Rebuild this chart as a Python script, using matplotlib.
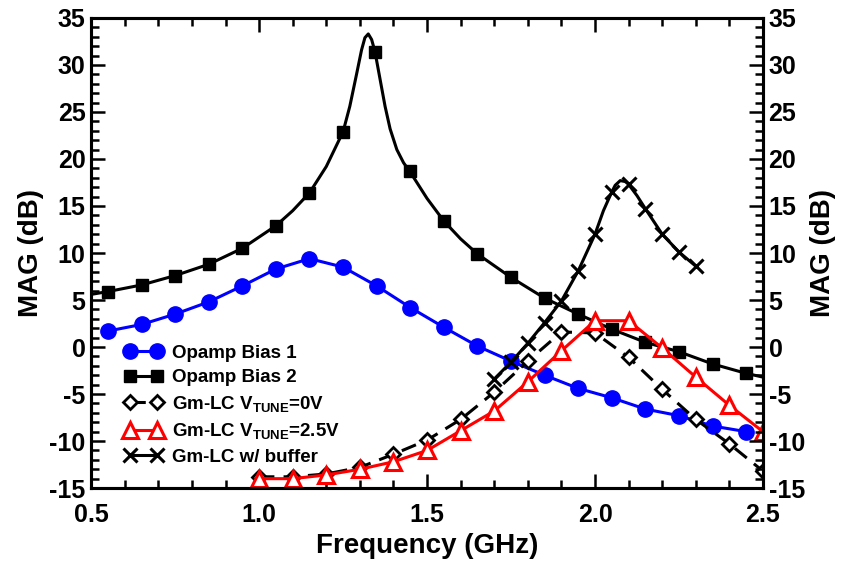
import matplotlib.pyplot as plt
from matplotlib.ticker import MultipleLocator, FormatStrFormatter

plt.rcParams['font.family'] = ['Liberation Sans', 'DejaVu Sans']
plt.rcParams['font.weight'] = 'bold'
plt.rcParams['axes.unicode_minus'] = False
plt.rcParams['mathtext.fontset'] = 'custom'
plt.rcParams['mathtext.bf'] = 'Liberation Sans:bold'
plt.rcParams['mathtext.rm'] = 'Liberation Sans:bold'
plt.rcParams['mathtext.default'] = 'bf'

# Opamp Bias 1 (blue circles)
f_bias1 = [0.55, 0.65, 0.75, 0.85, 0.95, 1.05, 1.15, 1.25, 1.35, 1.45,
           1.55, 1.65, 1.75, 1.85, 1.95, 2.05, 2.15, 2.25, 2.35, 2.45]
mag_bias1 = [1.7, 2.4, 3.5, 4.8, 6.5, 8.3, 9.4, 8.5, 6.5, 4.2,
             2.1, 0.1, -1.5, -3.0, -4.4, -5.4, -6.6, -7.3, -8.4, -9.0]

# Opamp Bias 2 (black squares) - markers
f_bias2 = [0.55, 0.65, 0.75, 0.85, 0.95, 1.05, 1.15, 1.25, 1.345, 1.45,
           1.55, 1.65, 1.75, 1.85, 1.95, 2.05, 2.15, 2.25, 2.35, 2.45]
mag_bias2 = [5.9, 6.6, 7.6, 8.8, 10.5, 12.9, 16.4, 22.9, 31.4, 18.7,
             13.4, 9.9, 7.4, 5.2, 3.5, 1.9, 0.5, -0.5, -1.8, -2.8]
# Opamp Bias 2 - traced curve
f_bias2_line = [0.5, 0.55, 0.65, 0.75, 0.85, 0.95, 1.05, 1.1, 1.15, 1.2, 1.25,
                1.27, 1.29, 1.305, 1.315, 1.325, 1.335, 1.345, 1.36, 1.375, 1.39,
                1.41, 1.43, 1.45, 1.50, 1.55, 1.60, 1.65, 1.75, 1.85, 1.95, 2.05,
                2.15, 2.25, 2.35, 2.45, 2.5]
mag_bias2_line = [5.6, 5.9, 6.6, 7.6, 8.8, 10.5, 12.9, 14.5, 16.4, 19.2, 22.9,
                  25.6, 29.0, 31.6, 32.9, 33.3, 32.7, 31.4, 28.5, 25.6, 23.2,
                  21.0, 19.6, 18.6, 15.8, 13.4, 11.5, 9.9, 7.4, 5.2, 3.5, 1.9,
                  0.5, -0.5, -1.8, -2.8, -3.2]

# Gm-LC VTUNE=0V (open diamonds, dashed)
f_tune0 = [1.0, 1.1, 1.2, 1.3, 1.4, 1.5, 1.6, 1.7, 1.8, 1.9,
           2.0, 2.1, 2.2, 2.3, 2.4, 2.5]
mag_tune0 = [-13.8, -13.8, -13.5, -12.8, -11.4, -9.9, -7.7, -4.8, -1.5, 1.6,
             1.5, -1.1, -4.5, -7.7, -10.3, -13.2]

# Gm-LC VTUNE=2.5V (open red triangles)
f_tune25 = [1.0, 1.1, 1.2, 1.3, 1.4, 1.5, 1.6, 1.7, 1.8, 1.9,
            2.0, 2.1, 2.2, 2.3, 2.4, 2.5]
mag_tune25 = [-14.0, -14.0, -13.6, -13.0, -12.2, -11.0, -8.9, -6.8, -3.7, -0.4,
              2.8, 2.8, -0.1, -3.2, -6.2, -9.0]

# Gm-LC w/ buffer (x markers)
f_buf = [1.70, 1.75, 1.80, 1.85, 1.90, 1.95, 2.00, 2.05, 2.10, 2.15, 2.20, 2.25, 2.30]
mag_buf = [-3.4, -1.6, 0.4, 2.6, 4.9, 8.1, 12.0, 16.5, 17.3, 14.7, 12.0, 10.1, 8.6]
f_buf_line = [1.70, 1.75, 1.80, 1.85, 1.90, 1.95, 2.00, 2.025, 2.05, 2.06, 2.075,
              2.09, 2.10, 2.125, 2.15, 2.20, 2.25, 2.30]
mag_buf_line = [-3.4, -1.6, 0.4, 2.6, 4.9, 8.1, 12.0, 14.5, 16.5, 17.2, 17.7,
                17.6, 17.3, 16.1, 14.7, 12.0, 10.1, 8.6]

fig = plt.figure(figsize=(8.44, 5.61), dpi=100)
ax = fig.add_axes([0.108, 0.130, 0.796, 0.838])

lw = 2.2
h1, = ax.plot(f_bias1, mag_bias1, color='#0000ff', lw=lw, marker='o', ms=11,
              label='Opamp Bias 1')
ax.plot(f_bias2_line, mag_bias2_line, color='black', lw=lw)
ax.plot(f_bias2, mag_bias2, ls='none', color='black', marker='s', ms=8)
h2, = ax.plot([], [], color='black', lw=lw, marker='s', ms=8, label='Opamp Bias 2')
h3, = ax.plot(f_tune0, mag_tune0, color='black', lw=lw, ls=(0, (5, 3)), marker='D',
              ms=7.5, mfc='white', mec='black', mew=2,
              label='Gm-LC V$_{TUNE}$=0V')
h4, = ax.plot(f_tune25, mag_tune25, color='#ff0000', lw=lw, marker='^', ms=11,
              mfc='white', mec='#ff0000', mew=2.2,
              label='Gm-LC V$_{TUNE}$=2.5V')
ax.plot(f_buf_line, mag_buf_line, color='black', lw=lw)
ax.plot(f_buf, mag_buf, ls='none', color='black', marker='x', ms=10, mew=2.2)
h5, = ax.plot([], [], color='black', lw=lw, marker='x', ms=10, mew=2.2,
              label='Gm-LC w/ buffer')

ax.set_xlim(0.5, 2.5)
ax.set_ylim(-15, 35)
ax.xaxis.set_major_locator(MultipleLocator(0.5))
ax.xaxis.set_minor_locator(MultipleLocator(0.1))
ax.xaxis.set_major_formatter(FormatStrFormatter('%.1f'))
ax.yaxis.set_major_locator(MultipleLocator(5))
ax.yaxis.set_minor_locator(MultipleLocator(1))

ax2 = ax.twinx()
ax2.set_ylim(-15, 35)
ax2.yaxis.set_major_locator(MultipleLocator(5))
ax2.yaxis.set_minor_locator(MultipleLocator(1))

for a in (ax, ax2):
    for s in a.spines.values():
        s.set_linewidth(2.2)
    a.tick_params(which='major', direction='in', length=10, width=1.8,
                  labelsize=18, pad=4)
    a.tick_params(which='minor', direction='in', length=6, width=1.8)
ax.tick_params(axis='x', which='major', pad=11)
ax.tick_params(which='both', top=True, right=False)
ax2.tick_params(which='both', left=False, right=True)
for t in ax.get_xticklabels() + ax.get_yticklabels() + ax2.get_yticklabels():
    t.set_fontweight('bold')

ax.set_xlabel('Frequency (GHz)', fontsize=20, fontweight='bold', labelpad=4)
ax.set_ylabel('MAG (dB)', fontsize=20, fontweight='bold', labelpad=4)
ax2.set_ylabel('MAG (dB)', fontsize=20, fontweight='bold', rotation=90, labelpad=4)

ax.legend(handles=[h1, h2, h3, h4, h5], loc='upper left', bbox_to_anchor=(0.05, 0.305),
          frameon=False, numpoints=2, handlelength=2.0, handletextpad=0.5,
          labelspacing=0.4, borderaxespad=0, borderpad=0,
          prop={'size': 13.5, 'weight': 'bold'})

fig.savefig('out.png', dpi=100)
